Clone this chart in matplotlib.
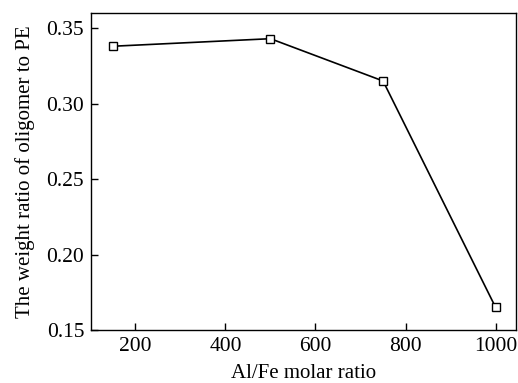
import matplotlib.pyplot as plt

# Al/Fe molar ratio vs weight ratio of oligomer to PE
al_fe_ratio = [150, 500, 750, 1000]
weight_ratio = [0.338, 0.343, 0.315, 0.165]

plt.rcParams['font.family'] = ['Liberation Serif', 'DejaVu Serif']
plt.rcParams['font.size'] = 15

fig = plt.figure(figsize=(5.18, 3.83), dpi=100)
ax = fig.add_axes([0.176, 0.138, 0.820, 0.828])

ax.plot(al_fe_ratio, weight_ratio, '-', color='black', linewidth=1.2,
        marker='s', markersize=6, markerfacecolor='white',
        markeredgecolor='black', markeredgewidth=1.0)

ax.set_xlim(102, 1045)
ax.set_ylim(0.15, 0.36)
ax.set_xticks([200, 400, 600, 800, 1000])
ax.set_yticks([0.15, 0.20, 0.25, 0.30, 0.35])
ax.set_yticklabels(['0.15', '0.20', '0.25', '0.30', '0.35'])
ax.tick_params(direction='in', length=5, width=1, top=False, right=False,
               pad=5, labelsize=15.5)
for sp in ax.spines.values():
    sp.set_linewidth(1.0)

ax.set_xlabel("Al/Fe molar ratio", labelpad=6)
ax.set_ylabel("The weight ratio of oligomer to PE", labelpad=8)

plt.savefig("out.png", dpi=100)
